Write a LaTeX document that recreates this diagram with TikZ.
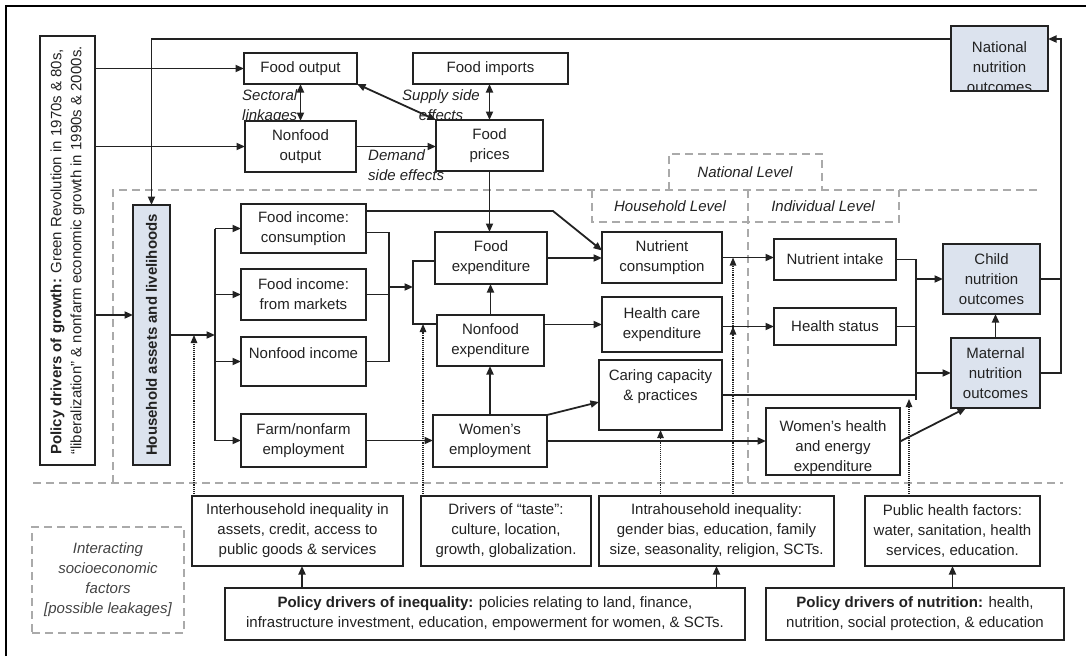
\documentclass[tikz,border=0pt]{standalone}
\usepackage{fontspec}
\setmainfont{Liberation Sans}
\usetikzlibrary{arrows.meta,calc}
\definecolor{hhblue}{HTML}{DCE3EE}
\definecolor{ink}{HTML}{222222}
\definecolor{dgray}{HTML}{AAAAAA}
\newcommand{\myfs}{\fontsize{15}{20}\selectfont}
\begin{document}
\begin{tikzpicture}[x=1pt,y=-1pt,
  box/.style={draw=ink, line width=2pt, fill=white, text=ink, font=\myfs, align=center, inner sep=0pt, outer sep=0pt},
  bluebox/.style={box, fill=hhblue},
  sz/.style 2 args={minimum width=#1pt, minimum height=#2pt},
  txt/.style={text=ink, font=\myfs, align=center, inner sep=0pt},
  lbl/.style={text=ink, font=\myfs\itshape, inner sep=0pt},
  ln/.style={draw=ink, line width=1.8pt},
  arr/.style={ln, -{Triangle[length=8.5pt,width=7pt]}},
  darr/.style={ln, {Triangle[length=8.5pt,width=7pt]}-{Triangle[length=8.5pt,width=7pt]}},
  dotarr/.style={draw=ink, line width=1.1pt, densely dotted, -{Triangle[length=8pt,width=6.5pt]}},
  gdash/.style={draw=dgray, line width=1.5pt, dash pattern=on 8pt off 5pt},
  gdashbox/.style={gdash, text=ink!85, font=\myfs\itshape, align=center, inner sep=0pt},
]
\useasboundingbox (0,0) rectangle (1086,656);
% frame
\draw[line width=1.8pt, black] (6,656) -- (6,6) -- (1086,6);

% helper coordinates
\coordinate (lbus) at (215,0);
\coordinate (bus2) at (389,0);
\coordinate (bus3) at (413,0);
\coordinate (bus4) at (916,0);
\coordinate (rbus) at (1061,39);
\coordinate (ytop) at (0,39);
\coordinate (y211) at (0,211);
\coordinate (y287) at (0,287);
\coordinate (y261) at (0,261);
\coordinate (y324) at (0,324);
\coordinate (y315) at (0,315);
\coordinate (x553) at (553,0);
\coordinate (x302) at (302,0);
\coordinate (xd1) at (194,0);
\coordinate (xd2) at (423,0);
\coordinate (xd4) at (733,0);
\coordinate (xd5) at (909,0);

% dashed level regions
\draw[gdash] (113,483) -- (113,190) -- (1038,190);
\draw[gdash] (33,483) -- (1063,483);
\draw[gdash] (669,190) -- (669,154) -- (822,154) -- (822,190);
\draw[gdash] (592,190) -- (592,222) -- (899,222) -- (899,190);
\draw[gdash] (748,190) -- (748,483);
\node[lbl] (natlvl) at (745,172) {National Level};
\node[lbl] (hhlvl) at (670,206) {Household Level};
\node[lbl] (indlvl) at (823,206) {Individual Level};

% edge labels (drawn before boxes)
\node[lbl, anchor=north west, align=left] (lsect) at (242,89) {Sectoral\\linkages};
\node[lbl, anchor=north, align=center] (lsupp) at (441,89) {Supply side\\effects};
\node[lbl, anchor=north west, align=left] (ldem) at (368,149) {Demand\\side effects};

% boxes
\node[box, sz={55}{429}] (polgrow) at (67.5,250.5) {};
\node[txt, rotate=90, align=left] (polgrowtxt) at (polgrow) {\textbf{Policy drivers of growth:} Green Revolution in 1970s \& 80s,\\“liberalization” \& nonfarm economic growth in 1990s \& 2000s.};
\node[bluebox, sz={37}{260}] (hh) at (151.5,335) {};
\node[txt, rotate=90] (hhtxt) at (hh) {\textbf{Household assets and livelihoods}};

\node[box, sz={113}{31}] (foodout) at (300.5,68.5) {Food output};
\node[box, sz={111}{51}] (nonfoodout) at (300.5,146.5) {Nonfood\\output};
\node[box, sz={155}{31}] (foodimp) at (490.5,68.5) {Food imports};
\node[box, sz={107}{51}] (foodprice) at (489.5,145.5) {Food\\prices};

\node[bluebox, sz={97}{65}] (natl) at (999.5,58.5) {};
\begin{scope}
\clip (natl.south west) rectangle (natl.north east);
\node[txt] (natltxt) at ($(natl.center)+(0,9)$) {National\\nutrition\\outcomes};
\end{scope}
\draw[draw=ink, line width=2pt] (natl.south west) rectangle (natl.north east);

\node[box, sz={125}{49}] (ficons) at (303.5,228.5) {Food income:\\consumption};
\node[box, sz={125}{51}] (fimark) at (303.5,294.5) {Food income:\\from markets};
\node[box, sz={125}{49}] (nfinc) at (303.5,361.5) {};
\node[txt] (nfinctxt) at (303.5,353) {Nonfood income};
\node[box, sz={125}{53}] (farm) at (303.5,440.5) {Farm/nonfarm\\employment};

\node[box, sz={112}{52}] (foodexp) at (491,258) {Food\\expenditure};
\node[box, sz={107}{51}] (nfexp) at (490.5,340.5) {Nonfood\\expenditure};
\node[box, sz={114}{52}] (wemp) at (490,441) {Women’s\\employment};

\node[box, sz={120}{51}] (nutcons) at (662,257.5) {Nutrient\\consumption};
\node[box, sz={120}{55}] (hcexp) at (662,324.5) {Health care\\expenditure};
\node[box, sz={123}{70}] (caring) at (660.5,395) {};
\node[txt] (caringtxt) at (660.5,386.5) {Caring capacity\\\& practices};

\node[box, sz={122}{41}] (nutint) at (835,259.5) {Nutrient intake};
\node[box, sz={122}{37}] (hstat) at (835,326.5) {Health status};
\node[box, sz={134}{67}] (whealth) at (833,441.5) {};
\begin{scope}
\clip (whealth.south west) rectangle (whealth.north east);
\node[txt] (whealthtxt) at ($(whealth.center)+(0,6)$) {Women’s health\\and energy\\expenditure};
\end{scope}
\draw[draw=ink, line width=2pt] (whealth.south west) rectangle (whealth.north east);

\node[bluebox, sz={97}{70}] (child) at (991.5,279) {Child\\nutrition\\outcomes};
\node[bluebox, sz={89}{70}] (maternal) at (995.5,373) {Maternal\\nutrition\\outcomes};

\node[box, sz={211}{70}] (interhh) at (297.5,531) {Interhousehold inequality in\\assets, credit, access to\\public goods \& services};
\node[box, sz={170}{70}] (taste) at (506,531) {Drivers of “taste”:\\culture, location,\\growth, globalization.};
\node[box, sz={235}{70}] (intrahh) at (716.5,531) {Intrahousehold inequality:\\gender bias, education, family\\size, seasonality, religion, SCTs.};
\node[box, sz={175}{70}] (pubhealth) at (952.5,531) {Public health factors:\\water, sanitation, health\\services, education.};
\node[box, sz={520}{52}] (polineq) at (485,614) {\textbf{Policy drivers of inequality:} policies relating to land, finance,\\infrastructure investment, education, empowerment for women, \& SCTs.};
\node[box, sz={298}{52}] (polnut) at (915,614) {\textbf{Policy drivers of nutrition:} health,\\nutrition, social protection, \& education};
\node[gdashbox, sz={152}{106}] (interact) at (108,580) {Interacting\\socioeconomic\\factors\\{[}possible leakages{]}};

% connectors: top
\draw[arr] (polgrow.east |- foodout.west) -- (foodout.west);
\draw[arr] (polgrow.east |- nonfoodout.west) -- (nonfoodout.west);
\draw[arr] (polgrow.east |- y315) -- (hh.west |- y315);
\draw[darr] (foodout.south) -- (nonfoodout.north);
\draw[darr] (foodimp.south -| foodprice.north) -- (foodprice.north);
\draw[darr] (foodout.south east) -- (foodprice.north west);
\draw[arr] (nonfoodout.east) -- (nonfoodout.east -| foodprice.west);
\draw[arr] (foodprice.south) -- (foodprice.south |- foodexp.north);
\draw[arr] (natl.west |- ytop) -| (hh.north);
\draw[ln] (child.east) -- (child.east -| rbus);
\draw[arr] (maternal.east) -| (rbus) -- (natl.east |- rbus);

% household to incomes
\draw[arr] (hh.east) -- (hh.east -| lbus);
\draw[ln] (lbus |- ficons.west) -- (lbus |- farm.west);
\foreach \n in {ficons,fimark,nfinc,farm} \draw[arr] (lbus |- \n.west) -- (\n.west);

% incomes to expenditure
\draw[arr] (ficons.east |- y211) -- (x553 |- y211) -- ($(nutcons.west)+(0,-7)$);
\draw[ln] ($(ficons.east)+(0,4)$) -| (bus2 |- nfinc.east) -- (nfinc.east);
\draw[ln] (fimark.east) -- (fimark.east -| bus2);
\draw[arr] (bus2 |- y287) -- (bus3 |- y287);
\draw[ln] (foodexp.west |- y261) -| (bus3 |- y324) -- (nfexp.west |- y324);
\draw[arr] (nfexp.north) -- (nfexp.north |- foodexp.south);
\draw[arr] (wemp.north) -- (wemp.north |- nfexp.south);
\draw[arr] (farm.east) -- (farm.east -| wemp.west);

% expenditure to household level
\draw[arr] (foodexp.east) -- (foodexp.east -| nutcons.west);
\draw[arr] (nfexp.east |- hcexp.west) -- (hcexp.west);
\draw[arr] (wemp.north east) -- ($(caring.west)+(0,7)$);
\draw[arr] (wemp.east) -- (wemp.east -| whealth.west);

% individual level
\draw[arr] (nutcons.east) -- (nutcons.east -| nutint.west);
\draw[arr] (hstat.west -| hcexp.east) -- (hstat.west);
\draw[ln] (nutint.east) -| ($(bus4 |- caring.east)+(0,5)$);
\draw[ln] (hstat.east) -- (hstat.east -| bus4);
\draw[ln] (caring.east) -- (caring.east -| bus4);
\draw[arr] (bus4 |- child.west) -- (child.west);
\draw[arr] (bus4 |- maternal.west) -- (maternal.west);
\draw[arr] (whealth.east) -- ($(maternal.south west)+(15,0)$);
\draw[arr] (maternal.north) -- (maternal.north |- child.south);

% bottom policy arrows
\draw[arr] (x302 |- polineq.north) -- (x302 |- interhh.south);
\draw[arr] (intrahh.south |- polineq.north) -- (intrahh.south);
\draw[arr] (pubhealth.south |- polnut.north) -- (pubhealth.south);

% dotted influences
\draw[dotarr] (xd1 |- interhh.north) -- (xd1 |- hh.east);
\draw[dotarr] (xd2 |- taste.north) -- (xd2 |- y324);
\draw[dotarr] (caring.south |- intrahh.north) -- (caring.south);
\draw[dotarr] (xd4 |- intrahh.north) -- (xd4 |- nutcons.east);
\draw[dotarr] (xd4 |- intrahh.north) -- (xd4 |- hstat.west);
\draw[dotarr] (xd5 |- pubhealth.north) -- ($(xd5 |- caring.east)+(0,4)$);
\end{tikzpicture}
\end{document}
